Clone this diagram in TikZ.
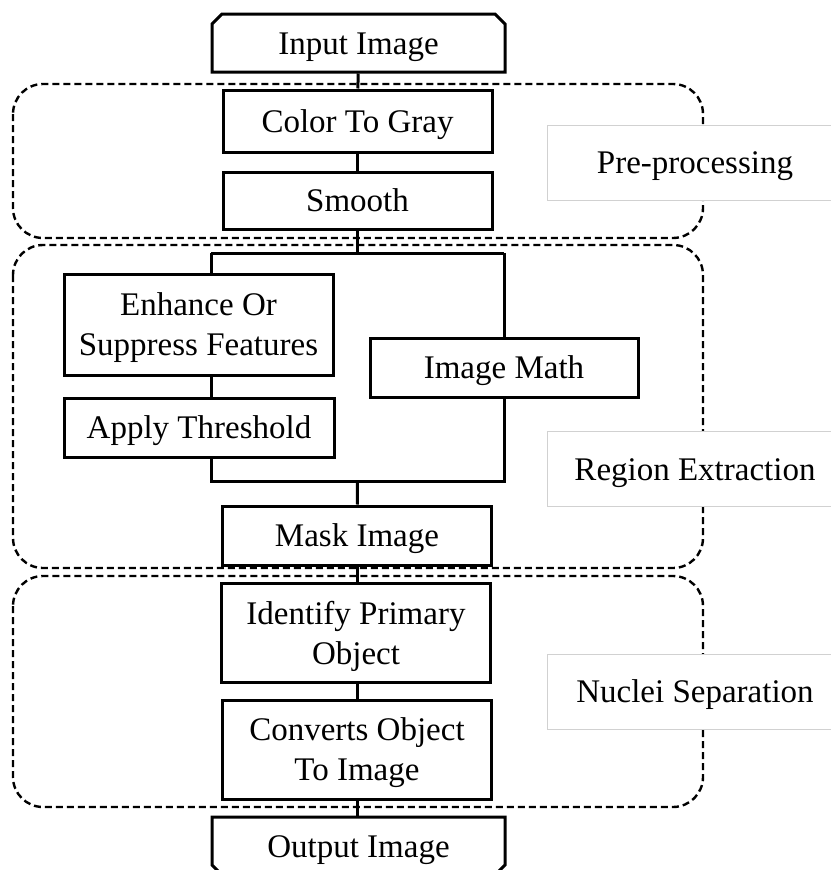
\documentclass[tikz,border=0pt]{standalone}
\usepackage{fontspec}
\setmainfont{Liberation Serif}
\usetikzlibrary{positioning,shapes.misc,backgrounds}

\begin{document}
\begin{tikzpicture}[x=1pt,y=-1pt,
  box/.style={draw,line width=3pt,fill=white,align=center,inner sep=2pt,
    text depth=0pt,minimum width=269pt,font=\fontsize{33}{40}\selectfont},
  single/.style={text height=22pt},
  io/.style={box,single,chamfered rectangle,chamfered rectangle sep=5pt,
    minimum width=293pt,minimum height=58pt},
  grp/.style={draw,line width=2.4pt,dash pattern=on 7pt off 4pt,rounded corners=30pt},
  tag/.style={draw=black!18,line width=1pt,fill=white,minimum width=296pt,
    minimum height=75pt,text height=22pt,text depth=0pt,font=\fontsize{33}{40}\selectfont},
  wire/.style={line width=3pt}]
\useasboundingbox (0,0) rectangle (830,870);
% stages
\node[io,chamfered rectangle corners={north west,north east}] (in) at (358.5,43) {Input Image};
\node[box,single,minimum height=62pt] (gray) at (357.5,121) {Color To Gray};
\node[box,single,minimum height=57pt] (smooth) at (357.5,200.5) {Smooth};
\node[box,minimum height=101pt] (enh) at (198.5,324.5) {Enhance Or\\Suppress Features};
\node[box,single,minimum height=59pt,minimum width=270pt] (thr) at (199,427.5) {Apply Threshold};
\node[box,single,minimum height=59pt,minimum width=268pt] (math) at (504,367.5) {Image Math};
\node[box,single,minimum height=59pt] (mask) at (357,535.5) {Mask Image};
\node[box,minimum height=99pt] (ident) at (356,632.5) {Identify Primary\\Object};
\node[box,minimum height=99pt] (conv) at (357,749.5) {Converts Object\\To Image};
\node[io,chamfered rectangle corners={south west,south east}] (out) at (358.5,846) {Output Image};
% split and join points
\coordinate (top) at (357.5,253);
\coordinate (topL) at (211,253);
\coordinate (topR) at (504,253);
\coordinate (bot) at (357.5,481);
\coordinate (botL) at (211,481);
\coordinate (botR) at (504,481);
% connectors
\draw[wire] (in) -- (gray);
\draw[wire] (gray) -- (smooth);
\draw[wire] (smooth) -- (top);
\draw[wire] (topL) -- (topR);
\draw[wire] (topL) -- (enh.north -| topL);
\draw[wire] (enh.south -| topL) -- (thr.north -| topL);
\draw[wire] (thr.south -| topL) -- (botL) -- (botR) -- (math.south -| botR);
\draw[wire] (topR) -- (math.north -| topR);
\draw[wire] (bot) -- (mask);
\draw[wire] (mask) -- (ident.north -| mask);
\draw[wire] (ident.south -| conv) -- (conv);
\draw[wire] (conv) -- (out.north -| conv);
% groups
\begin{scope}[on background layer]
\draw[grp] (13,84) rectangle (703,238);
\draw[grp] (13,245) rectangle (703,568);
\draw[grp] (13,576) rectangle (703,807);
\end{scope}
\node[tag] (pre) at (695,162.5) {Pre-processing};
\node[tag] (reg) at (695,469) {Region Extraction};
\node[tag] (nuc) at (695,691.5) {Nuclei Separation};
\end{tikzpicture}
\end{document}
